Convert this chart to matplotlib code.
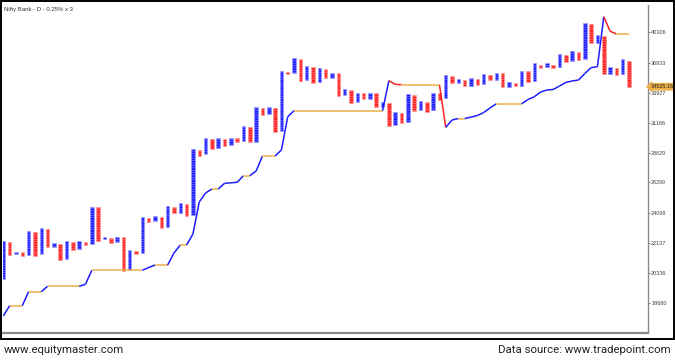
import numpy as np
import matplotlib
matplotlib.use("Agg")
import matplotlib.pyplot as plt
from matplotlib.patches import Rectangle
from matplotlib.ticker import FixedLocator, NullLocator
import matplotlib.transforms as mtrans

# ---------------- data ----------------
title = "Nifty Bank - D - 0.25% x 3"
col_high = [22264, 22219, 21578, 21578, 22906, 22841, 23102, 23036, 22137, 22074,
            22264, 22200, 22264, 22200, 24524, 24524, 22517, 22453, 22517, 22517,
            21701, 21640, 23836, 23768, 23904, 23836, 24594, 24524, 24806, 24735,
            28922, 28840, 29840, 29755, 29840, 29755, 29840, 29840, 30877, 30789,
            32591, 32499, 32591, 32499, 36105, 36002, 37465, 37359, 36622, 36518,
            36415, 36311, 35900, 35900, 34303, 34206, 33914, 33914, 33914, 33914,
            33085, 32935, 32103, 32012, 33790, 33723, 33152, 33085, 33946, 33882,
            35696, 35594, 35262, 35192, 35362, 35292, 35798, 35696, 35929, 35869,
            35020, 34892, 36156, 36105, 36937, 36726, 36937, 36726, 37893, 37786,
            38218, 38109, 41385, 41269, 39998, 39885, 36518, 36415, 37306, 37147]
col_low = [19981, 21394, 21456, 21333, 21394, 21333, 21456, 21886, 21886, 21092,
           21152, 21701, 21763, 22011, 22074, 22264, 22390, 22137, 22200, 20443,
           20501, 21456, 21517, 23499, 23566, 23102, 23167, 24108, 24108, 23904,
           23972, 28351, 28513, 28922, 29005, 29170, 29253, 29502, 29587, 29502,
           29502, 31858, 31949, 30353, 30440, 35798, 35900, 35092, 35192, 34892,
           34992, 35392, 35392, 33627, 33723, 32964, 33058, 33340, 33340, 32591,
           32619, 30877, 30965, 31167, 31248, 32222, 32314, 32157, 32314, 33246,
           33438, 34863, 34922, 34597, 34597, 34695, 34764, 35192, 35192, 34528,
           34528, 34597, 34646, 34992, 35142, 36415, 36518, 36415, 36570, 37042,
           37095, 37253, 37359, 39099, 39099, 35798, 35849, 35747, 35849, 34525]
# column type: 'X' rising (blue), 'O' falling (red)
col_type = ['X', 'O'] * 50

stop_line = [17987, 18521, 18521, 18521, 19273, 19273, 19273, 19572, 19572, 19572,
             19572, 19572, 19572, 19684, 20484, 20484, 20484, 20484, 20484, 20484,
             20484, 20484, 20484, 20646, 20794, 20794, 20794, 21517, 22011, 22011,
             22711, 24875, 25519, 25812, 25812, 26233, 26270, 26308, 26807, 26807,
             27168, 28351, 28351, 28351, 28840, 31704, 32250, 32250, 32250, 32250,
             32250, 32250, 32250, 32250, 32250, 32250, 32250, 32250, 32250, 32250,
             32250, 35122, 34764, 34724, 34724, 34724, 34724, 34724, 34724, 34724,
             30762, 31408, 31541, 31541, 31667, 31813, 32085, 32500, 32889, 32889,
             32889, 32889, 32889, 33293, 33551, 34011, 34206, 34255, 34597, 34951,
             35092, 35192, 35849, 36450, 36553, 42132, 40434, 40110, 40110, 40110]

tick_values = [18680, 20336, 22137, 24098, 26299, 28629, 31166, 33927, 36933, 40306]
last_price = 34525.16

# ---------------- style ----------------
BLUE = "#1c1cff"
RED = "#ff2222"
ORANGE = "#ecb04a"
W, H, DPI = 675, 362, 100
plt.rcParams["hatch.linewidth"] = 0.35
fig = plt.figure(figsize=(W / DPI, H / DPI), dpi=DPI)
fig.patch.set_facecolor("white")

# axes placed in pixel terms
ax_l, ax_r, ax_t, ax_b = 3, 647.7, 5, 332.5
ax = fig.add_axes([ax_l / W, (H - ax_b) / H, (ax_r - ax_l) / W, (ax_b - ax_t) / H])
ax.set_facecolor("white")

n = len(col_high)
x = np.arange(n)
for i in range(n):
    c = BLUE if col_type[i] == 'X' else RED
    lc = "#9a9aff" if col_type[i] == 'X' else "#ff9a9a"
    ax.bar(x[i], col_high[i] - col_low[i], bottom=col_low[i], width=0.55,
           color=c, edgecolor=lc, linewidth=0.45, hatch="-------", zorder=2)

# trailing line, coloured by direction
for i in range(n - 1):
    a, b = stop_line[i], stop_line[i + 1]
    c = BLUE if b > a else (RED if b < a else ORANGE)
    ax.plot([x[i], x[i + 1]], [a, b], color=c, lw=1.1, zorder=3,
            solid_capstyle="butt")

ax.set_yscale("log")
# scale: tick 40306 at y=32.3px and 18680 at 302.7px
k = np.log(40306 / 18680) / (302.7 - 32.3)
ytop = 40306 * np.exp(k * (32.3 - ax_t))
ybot = 18680 * np.exp(-k * (ax_b - 302.7))
ax.set_ylim(ybot, ytop)
ax.set_xlim(-0.05, 101.95)

ax.yaxis.tick_right()
ax.yaxis.set_major_locator(FixedLocator(tick_values))
ax.yaxis.set_minor_locator(NullLocator())
ax.set_yticklabels([str(v) for v in tick_values])
ax.tick_params(axis="y", length=1.5, width=0.5, pad=1, labelsize=4.0,
               colors="#444444", labelfontfamily="Liberation Sans")
ax.set_xticks([])
for s in ["top", "left"]:
    ax.spines[s].set_visible(False)
ax.spines["right"].set_color("#8a8a8a")
ax.spines["right"].set_linewidth(1.0)
ax.spines["bottom"].set_color("#8a8a8a")
ax.spines["bottom"].set_linewidth(1.6)

ax.text(0.002, 0.995, title, transform=ax.transAxes, ha="left", va="top",
        fontsize=4.3, color="#333333", family="Liberation Sans")

# last-price label
trans = mtrans.blended_transform_factory(ax.transAxes, ax.transData)
ax.text(1.004, last_price, f"{last_price:.2f}", transform=trans, ha="left",
        va="center", fontsize=4.0, color="#222222", family="Liberation Sans",
        bbox=dict(boxstyle="larrow,pad=0.25", fc=ORANGE, ec="none"),
        clip_on=False, zorder=5)

# outer frame
fig.add_artist(Rectangle((0.5 / W, (H - 339) / H), 673.5 / W, 338.5 / H,
                         transform=fig.transFigure, fill=False, ec="black", lw=1.4))

# footer
fig.text(4 / W, (H - 350) / H, "www.equitymaster.com", ha="left", va="center",
         fontsize=8.2, family="Roboto", color="#222222")
fig.text(671 / W, (H - 350) / H, "Data source: www.tradepoint.com", ha="right",
         va="center", fontsize=8.2, family="Roboto", color="#222222")

fig.savefig("out.png", dpi=DPI)
